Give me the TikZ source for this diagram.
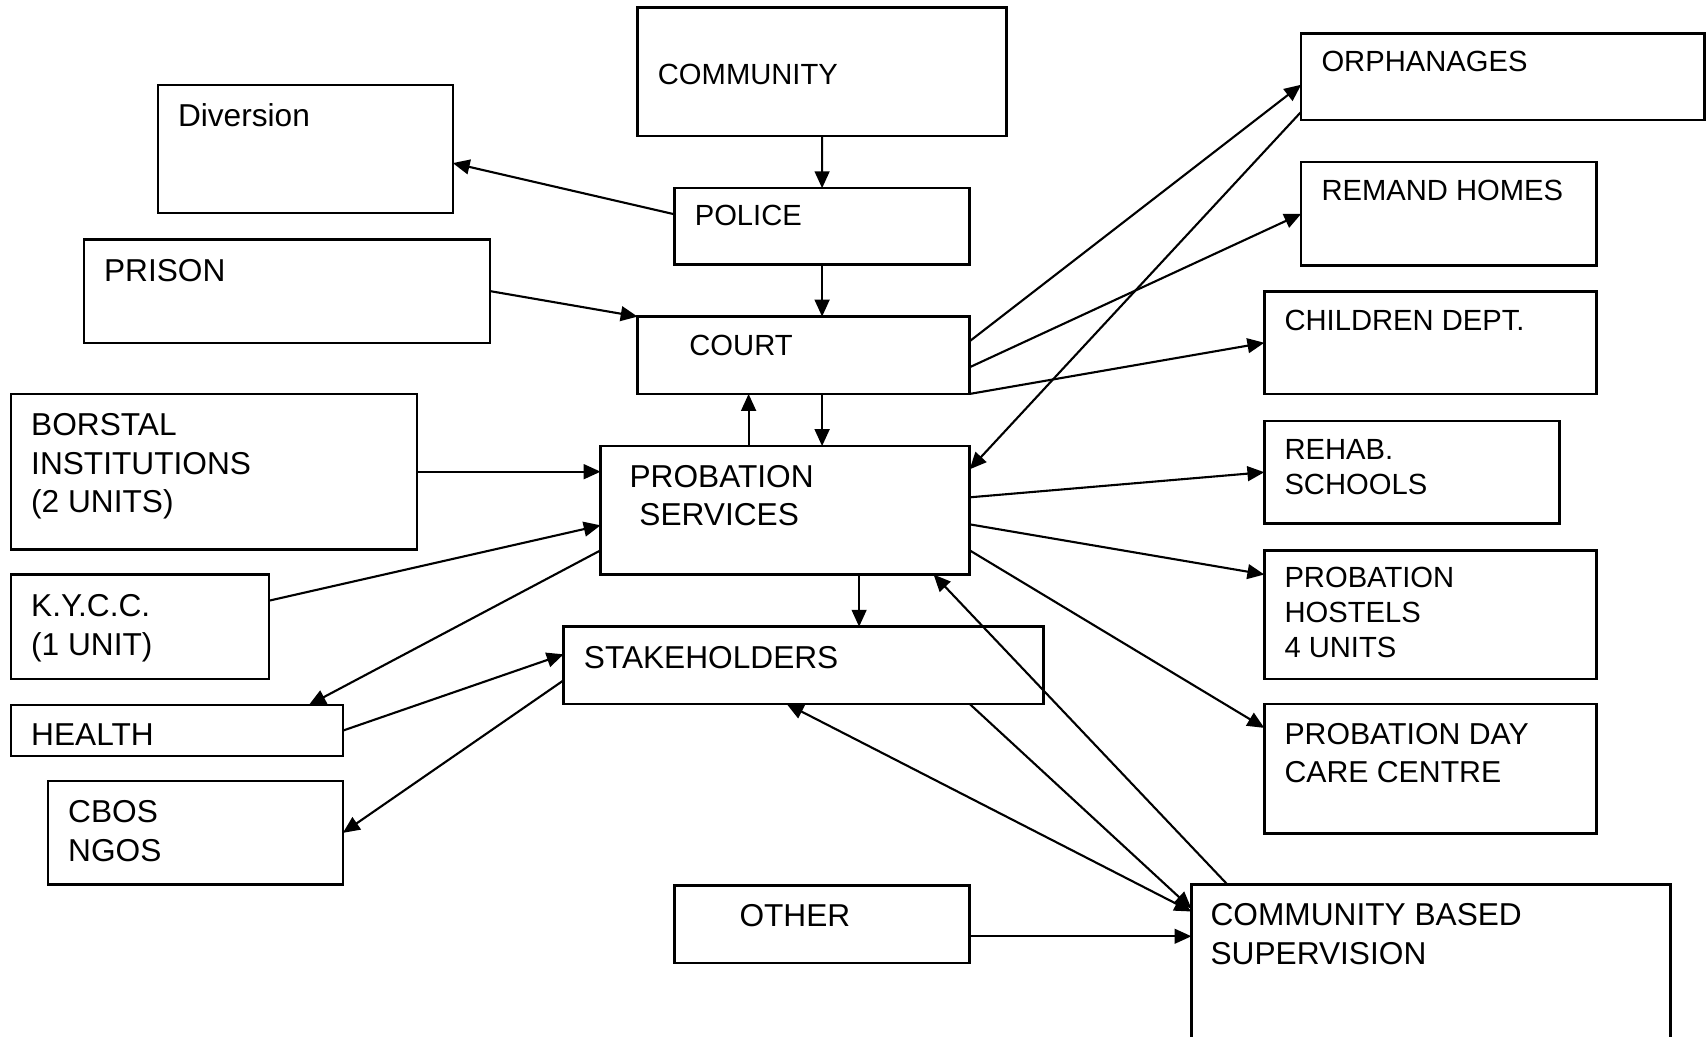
\documentclass[tikz,border=0pt]{standalone}
\usepackage{fontspec}
\setmainfont{Liberation Sans}
\usetikzlibrary{arrows.meta}

\begin{document}
\begin{tikzpicture}[
  x=0.01cm, y=-0.01cm,
  >={Triangle[length=4.8pt, width=4.2pt]},
  box/.style={draw, line width=0.7pt, inner sep=0pt, outer sep=0pt, anchor=north west},
  txt/.style={anchor=base west, inner sep=0pt, align=left},
  bigtxt/.style={txt, font=\fontsize{9}{11}\selectfont},
  smalltxt/.style={txt, font=\fontsize{8.3}{10}\selectfont},
  link/.style={draw, ->, line width=0.6pt}
]
\useasboundingbox (0,0) rectangle (1706,1037);

\node[box, minimum width=3.688cm, minimum height=1.284cm] (community) at (637.6,7.6) {};
\node[box, minimum width=2.948cm, minimum height=1.283cm] (diversion) at (157.8,84.9) {};
\node[box, minimum width=2.948cm, minimum height=0.762cm] (police) at (674.6,188.2) {};
\node[box, minimum width=4.058cm, minimum height=1.033cm] (prison) at (83.8,239.4) {};
\node[box, minimum width=3.318cm, minimum height=0.773cm] (court) at (637.6,316.6) {};
\node[box, minimum width=4.058cm, minimum height=1.555cm] (borstal) at (10.9,393.9) {};
\node[box, minimum width=3.688cm, minimum height=1.284cm] (probation) at (600.6,446.1) {};
\node[box, minimum width=2.578cm, minimum height=1.044cm] (kycc) at (10.9,574.5) {};
\node[box, minimum width=4.798cm, minimum height=0.772cm] (stakeholders) at (563.6,626.7) {};
\node[box, minimum width=3.318cm, minimum height=0.512cm] (health) at (10.9,705) {};
\node[box, minimum width=2.948cm, minimum height=1.033cm] (cbos) at (47.9,781.2) {};
\node[box, minimum width=2.948cm, minimum height=0.773cm] (other) at (674.6,885.6) {};
\node[box, minimum width=4.786cm, minimum height=1.6cm] (cbs) at (1191.4,884.5) {};
\node[box, minimum width=4.03cm, minimum height=0.86cm] (orphanages) at (1301.2,33.7) {};
\node[box, minimum width=2.949cm, minimum height=1.034cm] (remand) at (1301.2,162.1) {};
\node[box, minimum width=3.318cm, minimum height=1.023cm] (children) at (1264.3,291.6) {};
\node[box, minimum width=2.948cm, minimum height=1.022cm] (rehab) at (1264.3,421.1) {};
\node[box, minimum width=3.318cm, minimum height=1.284cm] (hostels) at (1264.3,550.5) {};
\node[box, minimum width=3.318cm, minimum height=1.295cm] (daycare) at (1264.3,703.9) {};

\node[smalltxt] (communitytext) at (657.2,84.4) {COMMUNITY};
\node[bigtxt] (diversiontext) at (177.3,126.6) {Diversion};
\node[smalltxt] (policetext) at (694.1,225.9) {POLICE};
\node[bigtxt] (prisontext) at (103.4,281.1) {PRISON};
\node[smalltxt] (courttext) at (688.7,355.3) {COURT};
\node[bigtxt] (borstaltext) at (30.5,512.9) {BORSTAL\\INSTITUTIONS\\(2 UNITS)};
\node[bigtxt] (probationtext) at (628.9,525.9) {PROBATION\\\hspace*{2.8pt}SERVICES};
\node[bigtxt] (kycctext) at (30.5,655.4) {K.Y.C.C.\\(1 UNIT)};
\node[bigtxt] (stakeholderstext) at (583.2,668.5) {STAKEHOLDERS};
\node[bigtxt] (healthtext) at (30.5,745.7) {HEALTH};
\node[bigtxt] (cbostext) at (67.5,861) {CBOS\\NGOS};
\node[bigtxt] (othertext) at (738.8,926.3) {OTHER};
\node[bigtxt] (cbstext) at (1209.9,964.4) {COMMUNITY BASED\\SUPERVISION};
\node[smalltxt] (orphanagestext) at (1320.8,71.4) {ORPHANAGES};
\node[smalltxt] (remandtext) at (1320.8,200.8) {REMAND HOMES};
\node[smalltxt] (childrentext) at (1283.8,330.3) {CHILDREN DEPT.};
\node[smalltxt] (rehabtext) at (1283.8,494.6) {REHAB.\\SCHOOLS};
\node[smalltxt] (hostelstext) at (1283.8,657.8) {PROBATION\\HOSTELS\\4 UNITS};
\node[smalltxt, font=\fontsize{8.6}{10.8}\selectfont] (daycaretext) at (1283.8,782.3) {PROBATION DAY\\CARE CENTRE};

\coordinate (up) at ([shift={(-55,0)}]court.south);
\coordinate (ps) at ([shift={(74,0)}]probation.south);
\coordinate (oc) at ([shift={(0,12)}]other.east);

\draw[link] (community.south) -- (police.north);
\draw[link] ([shift={(0,-12)}]police.west) -- ([shift={(0,14)}]diversion.east);
\draw[link] (police.south) -- (police.south |- court.north);
\draw[link] (prison.east) -- (court.north west);
\draw[link] (police.south |- court.south) -- (police.south |- probation.north);
\draw[link] (up |- probation.north) -- (up);
\draw[link] ([shift={(0,-14)}]court.east) -- ([shift={(0,8)}]orphanages.west);
\draw[link] ([shift={(0,12)}]court.east) -- (remand.west);
\draw[link] (court.south east) -- (children.west);
\draw[link] ([shift={(0,-8)}]orphanages.south west) -- ([shift={(0,-41)}]probation.east);
\draw[link] (borstal.east) -- (borstal.east -| probation.west);
\draw[link] ([shift={(0,-26)}]kycc.east) -- ([shift={(0,15)}]probation.west);
\draw[link] ([shift={(0,40)}]probation.west) -- ([shift={(-34,0)}]health.north east);
\draw[link] ([shift={(0,-13)}]probation.east) -- (rehab.west);
\draw[link] ([shift={(0,14)}]probation.east) -- ([shift={(0,24)}]hostels.north west);
\draw[link] ([shift={(0,40)}]probation.east) -- ([shift={(0,24)}]daycare.north west);
\draw[link] (ps) -- (ps |- stakeholders.north);
\draw[link] (health.east) -- ([shift={(0,-11)}]stakeholders.west);
\draw[link] ([shift={(0,15)}]stakeholders.west) -- (cbos.east);
\draw[link] ([shift={(166,0)}]stakeholders.south) -- ([shift={(0,24)}]cbs.north west);
\draw[link, <->] ([shift={(-17,0)}]stakeholders.south) -- ([shift={(0,27)}]cbs.north west);
\draw[link] ([shift={(36,0)}]cbs.north west) -- ([shift={(-36,0)}]probation.south east);
\draw[link] (oc) -- (oc -| cbs.west);

\end{tikzpicture}
\end{document}
